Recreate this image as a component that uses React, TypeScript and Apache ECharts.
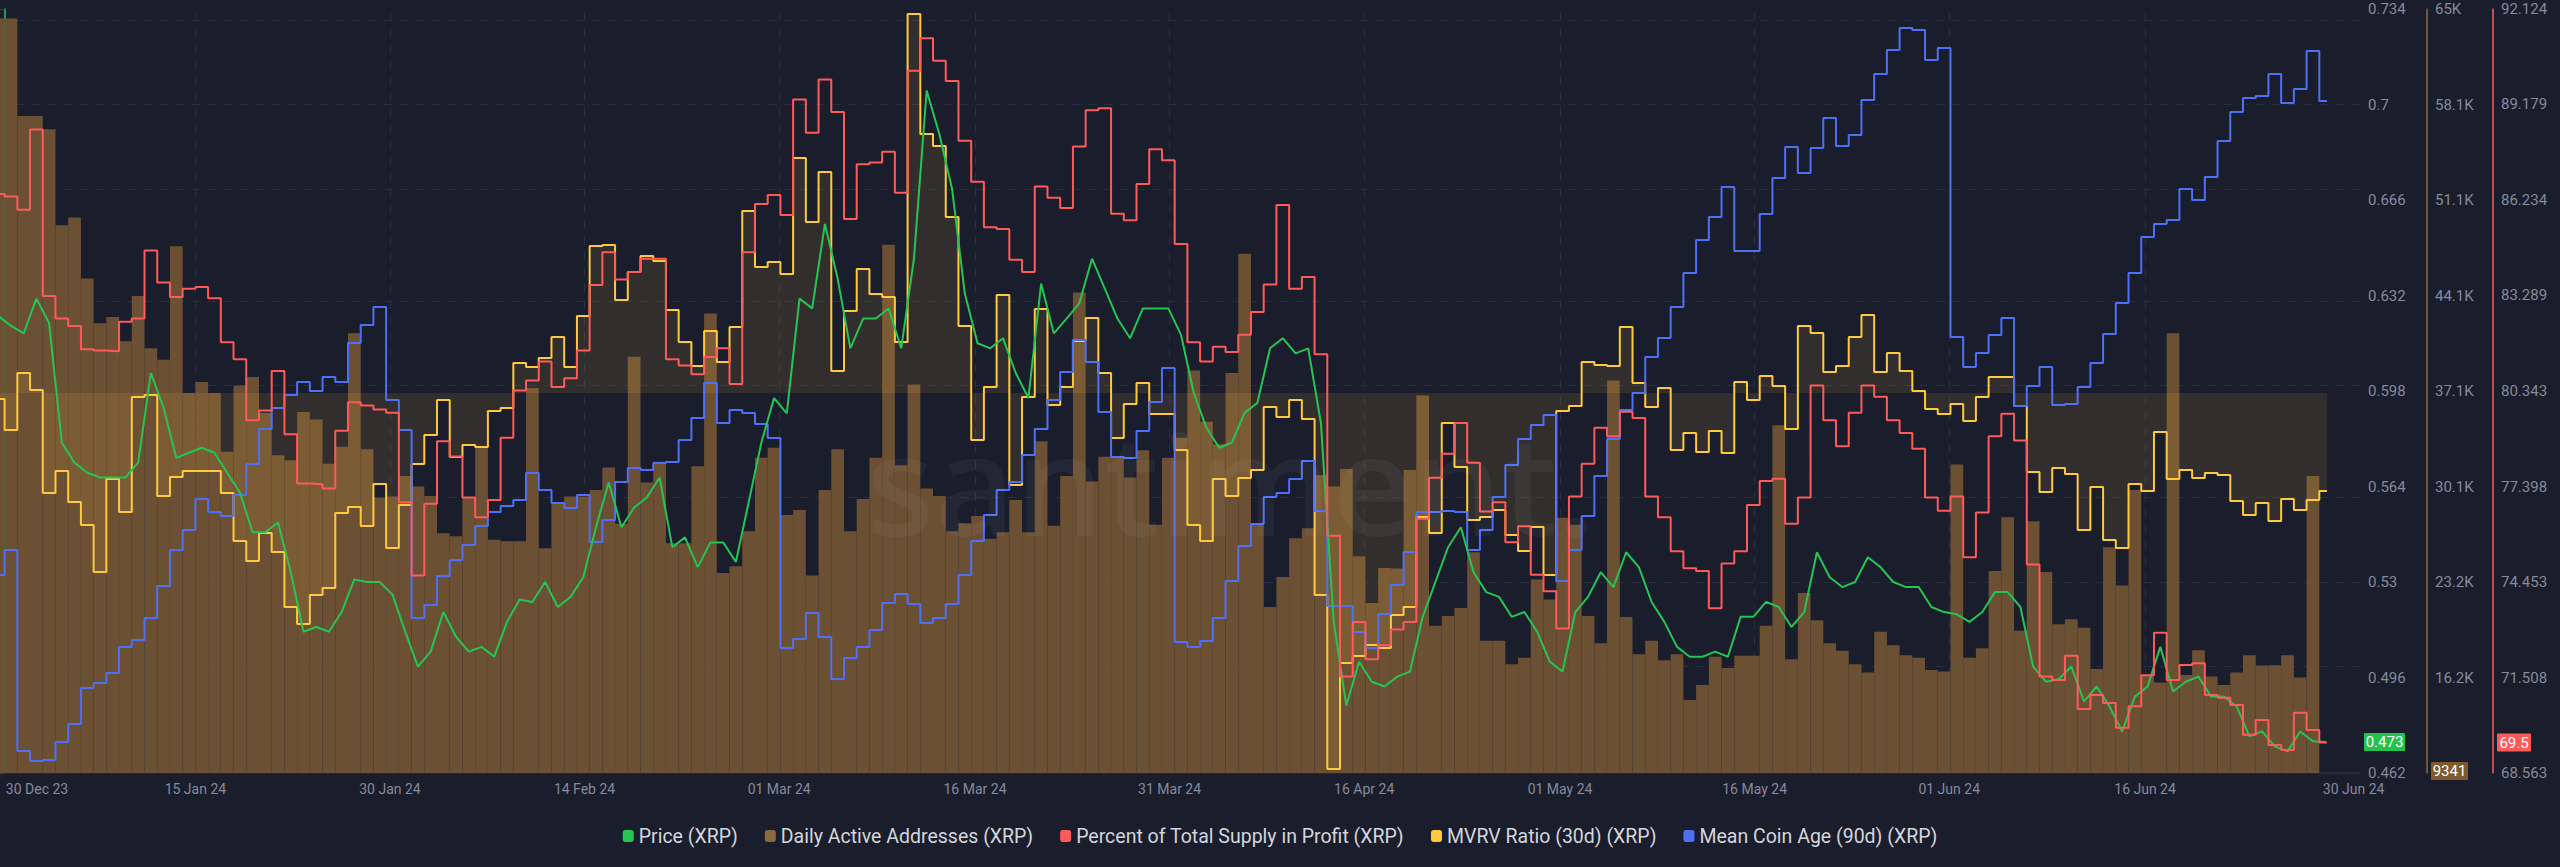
import React, { useEffect, useRef } from 'react';
import * as echarts from 'echarts';

// ---- data (daily slots; slot k covers day k..k+1, slot -1 = 30 Dec 2023) ----
const FIRST_SLOT = -1;

const dailyActiveAddresses = [
  64353, 64353, 57226, 57226, 56244, 49227, 49808, 45336, 42064, 42537,
  40755, 44064, 40246, 39409, 47700, 36974, 37773, 36974, 32683, 37519,
  38137, 35519, 32429, 32065, 35592, 35043, 31810, 33046, 41337, 32864,
  29338, 29411, 30901, 30138, 29447, 26720, 26502, 29338, 32974, 26247,
  26138, 26138, 37337, 25629, 28901, 29411, 29411, 29883, 31520, 27411,
  39628, 30429, 31956, 25992, 25992, 31629, 42791, 23811, 24320, 26866,
  32247, 32974, 28065, 28429, 23629, 29883, 32864, 26866, 29229, 32247,
  47809, 31701, 37592, 29992, 29447, 26866, 27447, 27993, 26320, 26793,
  29156, 26793, 33446, 27266, 30901, 44318, 30502, 32320, 32320, 30792,
  32792, 27338, 32247, 33701, 38610, 34865, 33228, 38428, 47154, 27338,
  21339, 23520, 26356, 27083, 30974, 30138, 31410, 25047, 21630, 24175,
  24138, 31338, 36792, 19957, 20684, 21266, 25338, 18866, 18866, 17157,
  17630, 23339, 21884, 27850, 27338, 20684, 18684, 37883, 20611, 17884,
  18866, 17448, 17884, 14539, 15629, 17703, 16866, 17775, 17775, 19957,
  34610, 17521, 22357, 20357, 18684, 18138, 17157, 16539, 19521, 18539,
  17812, 17630, 16721, 16612, 31740, 17630, 18321, 23957, 27884, 19593,
  27593, 23884, 20066, 20429, 19811, 16794, 25702, 22900, 29883, 16357,
  15811, 41337, 16357, 18175, 16248, 15629, 16539, 17812, 17048, 17084,
  17812, 16175, 30901,
];

const percentSupplyInProfit = [
  86.42, 86.34, 85.93, 88.41, 83.27, 82.58, 82.35, 81.63, 81.59, 81.57,
  82.48, 82.58, 84.68, 83.69, 83.24, 83.50, 83.55, 83.20, 81.85, 81.32,
  79.44, 79.74, 80.96, 79.01, 77.49, 77.47, 77.34, 79.12, 80.00, 79.90,
  79.77, 79.67, 76.91, 74.65, 76.87, 78.79, 78.32, 77.06, 76.45, 76.98,
  78.90, 80.36, 80.67, 81.25, 80.47, 80.74, 81.59, 83.61, 84.62, 83.78,
  84.01, 84.42, 84.42, 81.32, 81.13, 80.86, 81.39, 81.66, 80.56, 84.62,
  86.11, 86.39, 85.77, 89.33, 88.31, 89.95, 88.95, 85.65, 87.34, 87.39,
  87.72, 86.46, 90.22, 91.22, 90.53, 89.90, 88.06, 86.80, 85.39, 85.34,
  84.39, 84.01, 86.65, 86.30, 85.99, 87.88, 89.00, 89.06, 85.81, 85.61,
  86.73, 87.80, 87.46, 84.88, 81.85, 81.25, 81.71, 81.55, 82.08, 82.78,
  83.63, 86.08, 83.50, 83.86, 81.48, 75.88, 71.54, 73.22, 72.07, 72.50,
  72.99, 73.22, 76.40, 77.67, 78.41, 79.36, 78.13, 76.63, 76.91, 75.68,
  76.17, 74.68, 74.17, 73.02, 77.09, 78.10, 79.21, 78.95, 79.70, 79.51,
  77.09, 76.45, 75.40, 74.88, 74.79, 73.64, 75.02, 75.40, 76.83, 77.57,
  77.64, 76.25, 77.06, 80.51, 79.44, 78.64, 79.67, 80.51, 80.17, 79.44,
  79.05, 78.56, 77.06, 76.65, 77.09, 75.22, 76.60, 78.95, 79.64, 78.82,
  74.99, 71.54, 71.43, 72.18, 70.54, 70.97, 70.72, 69.96, 70.62, 71.58,
  72.89, 71.43, 71.89, 71.95, 70.97, 70.88, 70.66, 69.74, 70.20, 69.43,
  69.27, 70.42, 69.89, 69.50,
];

const mvrvRatio30d = [
  0.994, 0.963, 1.020, 1.003, 0.900, 0.922, 0.891, 0.868, 0.821, 0.914,
  0.881, 0.996, 0.998, 0.897, 0.916, 0.922, 0.922, 0.922, 0.900, 0.852,
  0.832, 0.860, 0.841, 0.786, 0.769, 0.798, 0.805, 0.880, 0.886, 0.867,
  0.909, 0.845, 0.888, 0.929, 0.958, 0.993, 0.936, 0.948, 0.946, 0.982,
  0.985, 1.030, 1.026, 1.035, 1.056, 1.026, 1.077, 1.147, 1.148, 1.093,
  1.121, 1.137, 1.132, 1.083, 1.051, 1.027, 1.062, 1.031, 1.066, 1.182,
  1.126, 1.131, 1.119, 1.235, 1.171, 1.221, 1.022, 1.082, 1.124, 1.099,
  1.096, 1.051, 1.379, 1.259, 1.247, 1.176, 1.067, 0.953, 1.006, 1.098,
  0.908, 0.996, 1.084, 0.988, 1.006, 1.052, 1.075, 1.020, 0.955, 0.989,
  1.010, 0.979, 0.979, 0.943, 0.868, 0.852, 0.914, 0.897, 0.915, 0.923,
  0.986, 0.976, 0.993, 0.974, 0.798, 0.624, 0.730, 0.737, 0.748, 0.745,
  0.778, 0.786, 0.876, 0.860, 0.970, 0.926, 0.873, 0.876, 0.883, 0.858,
  0.842, 0.866, 0.818, 0.982, 0.987, 1.031, 1.028, 1.027, 1.066, 1.010,
  0.986, 1.005, 0.943, 0.960, 0.941, 0.962, 0.940, 1.011, 0.993, 1.017,
  1.007, 0.964, 1.067, 1.060, 1.021, 1.027, 1.056, 1.078, 1.021, 1.040,
  1.022, 1.002, 0.984, 0.979, 0.989, 0.972, 0.996, 1.016, 1.016, 0.987,
  0.921, 0.901, 0.925, 0.919, 0.863, 0.906, 0.853, 0.845, 0.909, 0.902,
  0.961, 0.914, 0.923, 0.915, 0.920, 0.918, 0.892, 0.878, 0.890, 0.872,
  0.894, 0.883, 0.893, 0.902,
];

const meanCoinAge90d = [
  29.8, 32.3, 12.2, 11.2, 11.3, 13.1, 14.9, 18.5, 19.0, 20.0,
  22.6, 23.3, 25.5, 28.7, 32.3, 34.3, 37.4, 36.1, 35.7, 37.8,
  40.9, 44.4, 46.5, 47.8, 49.1, 48.2, 49.6, 49.1, 53.0, 54.8,
  56.6, 47.3, 44.3, 25.5, 26.8, 29.7, 31.3, 32.8, 34.7, 36.1,
  36.7, 37.3, 40.0, 38.3, 37.0, 36.5, 37.8, 33.1, 35.3, 39.1,
  40.5, 40.3, 41.0, 41.1, 43.3, 45.5, 49.0, 45.0, 46.3, 46.0,
  44.9, 43.5, 22.5, 23.4, 26.0, 23.6, 19.4, 21.5, 22.6, 24.3,
  27.0, 27.9, 26.9, 25.0, 25.5, 26.9, 29.8, 33.2, 35.8, 38.3,
  39.1, 41.8, 44.4, 47.3, 50.1, 53.3, 51.1, 46.1, 41.6, 41.5,
  44.2, 47.1, 50.5, 23.1, 22.6, 23.2, 25.5, 29.2, 32.7, 34.9,
  37.6, 38.0, 39.4, 41.2, 36.2, 26.7, 26.7, 24.1, 22.5, 25.9,
  28.8, 32.1, 36.1, 36.1, 36.2, 36.1, 32.3, 34.3, 37.6, 40.8,
  43.4, 44.8, 45.8, 29.2, 32.3, 35.7, 39.7, 43.4, 46.3, 48.0,
  51.6, 53.5, 56.6, 60.0, 63.3, 65.6, 68.6, 62.2, 62.2, 65.9,
  69.5, 72.6, 70.0, 72.5, 75.5, 72.7, 73.8, 77.3, 79.9, 82.3,
  84.5, 84.3, 81.3, 82.5, 53.6, 50.6, 52.0, 53.8, 55.5, 46.7,
  48.7, 50.6, 46.8, 46.9, 48.6, 51.0, 53.9, 57.0, 60.0, 63.6,
  64.9, 65.3, 68.4, 67.3, 69.6, 73.2, 76.1, 77.5, 77.7, 79.9,
  77.0, 78.4, 82.2, 77.2,
];

const priceXrp = [
  0.6247, 0.6212, 0.6185, 0.6309, 0.6221, 0.5796, 0.5725, 0.5689, 0.5672, 0.5672,
  0.5672, 0.5725, 0.6044, 0.5920, 0.5742, 0.5760, 0.5778, 0.5760, 0.5689, 0.5619,
  0.5477, 0.5477, 0.5512, 0.5335, 0.5123, 0.5140, 0.5123, 0.5193, 0.5309, 0.5300,
  0.5300, 0.5255, 0.5123, 0.4999, 0.5052, 0.5193, 0.5105, 0.5052, 0.5069, 0.5034,
  0.5158, 0.5238, 0.5229, 0.5300, 0.5211, 0.5247, 0.5317, 0.5495, 0.5654, 0.5495,
  0.5565, 0.5601, 0.5672, 0.5424, 0.5459, 0.5353, 0.5441, 0.5441, 0.5371, 0.5583,
  0.5796, 0.5955, 0.5900, 0.6309, 0.6274, 0.6575, 0.6380, 0.6132, 0.6238, 0.6238,
  0.6274, 0.6132, 0.6451, 0.7050, 0.6894, 0.6699, 0.6327, 0.6150, 0.6132, 0.6168,
  0.6044, 0.5955, 0.6362, 0.6185, 0.6238, 0.6292, 0.6451, 0.6345, 0.6238, 0.6168,
  0.6274, 0.6274, 0.6274, 0.6180, 0.5973, 0.5849, 0.5778, 0.5796, 0.5902, 0.5937,
  0.6132, 0.6168, 0.6114, 0.6132, 0.5866, 0.5160, 0.4860, 0.5016, 0.4945, 0.4928,
  0.4963, 0.4981, 0.5176, 0.5300, 0.5424, 0.5495, 0.5335, 0.5264, 0.5247, 0.5176,
  0.5193, 0.5123, 0.5016, 0.4981, 0.5193, 0.5247, 0.5335, 0.5282, 0.5406, 0.5353,
  0.5229, 0.5158, 0.5069, 0.5034, 0.5034, 0.5052, 0.5034, 0.5176, 0.5176, 0.5229,
  0.5211, 0.5140, 0.5193, 0.5406, 0.5317, 0.5282, 0.5300, 0.5388, 0.5353, 0.5300,
  0.5282, 0.5282, 0.5211, 0.5193, 0.5185, 0.5158, 0.5193, 0.5264, 0.5264, 0.5211,
  0.4999, 0.4945, 0.4954, 0.4999, 0.4875, 0.4928, 0.4857, 0.4768, 0.4892, 0.4928,
  0.5069, 0.4910, 0.4945, 0.4963, 0.4892, 0.4892, 0.4857, 0.4751, 0.4768, 0.4715,
  0.4697, 0.4768, 0.4733, 0.4730,
];

// latest values shown in the axis badges
const latestPrice = 0.473;
const latestDaa = 9341;
const latestProfit = 69.5;

// axis ticks
const xTickLabels = ['30 Dec 23', '15 Jan 24', '30 Jan 24', '14 Feb 24', '01 Mar 24', '16 Mar 24', '31 Mar 24',
  '16 Apr 24', '01 May 24', '16 May 24', '01 Jun 24', '16 Jun 24', '30 Jun 24'];
const xTickDays = [2.55, 15.0, 30.3, 45.6, 60.9, 76.3, 91.6, 106.9, 122.3, 137.6, 152.9, 168.3, 184.7];
const xGridDays = [15.0, 30.3, 45.6, 60.9, 76.3, 91.6, 106.9, 122.3, 137.6, 152.9, 168.3];
const priceTicks = [0.462, 0.496, 0.53, 0.564, 0.598, 0.632, 0.666, 0.7, 0.734];
const daaTicks = [16180, 23160, 30140, 37120, 44100, 51080, 58060, 65040];
const profitTicks = [68.563, 71.508, 74.453, 77.398, 80.343, 83.289, 86.234, 89.179, 92.124];

// ---- styling ----
const BG = '#1a1d2b';
const GREEN = '#26c452';
const BROWN = '#6c5034';
const BROWN_LEGEND = '#8a6a3d';
const RED = '#ff5a5a';
const YELLOW = '#ffc93f';
const BLUE = '#4f70f5';
const FONT = 'Roboto, "Open Sans", sans-serif';
const AXIS_TEXT = '#858a9c';
const LINE_END = 182.6;

function stepData(values: number[]) {
  const d: number[][] = values.map((v, i) => [FIRST_SLOT + i, v]);
  d.push([LINE_END, values[values.length - 1]]);
  return d;
}

function kFormat(v: number) {
  const s = (v / 1000).toFixed(1).replace(/\.0$/, '');
  return s + 'K';
}

export default function App() {
  const ref = useRef<HTMLDivElement>(null);
  useEffect(() => {
    document.body.style.margin = '0';
    document.body.style.background = BG;
    const chart = echarts.init(ref.current!, null, { renderer: 'svg' });

    const names = ['Price (XRP)', 'Daily Active Addresses (XRP)', 'Percent of Total Supply in Profit (XRP)',
      'MVRV Ratio (30d) (XRP)', 'Mean Coin Age (90d) (XRP)'];

    const daaData = dailyActiveAddresses.map((v, i) => [FIRST_SLOT + i, v]);
    const priceData = priceXrp.map((v, i) => [FIRST_SLOT + i + 0.5, v]);

    const rightAxis = (offset: number, color: string, min: number, max: number, ticks: number[], fmt: (v: number) => string, tick: boolean) => ({
      type: 'value',
      position: 'right',
      offset,
      min,
      max,
      axisLine: { show: true, lineStyle: { color, width: 1.5 } },
      axisTick: { show: tick, inside: true, length: 6, customValues: ticks, lineStyle: { color: '#343a4d' } },
      splitLine: { show: false },
      axisLabel: { customValues: ticks, color: AXIS_TEXT, fontSize: 15, fontFamily: FONT, margin: 8, formatter: fmt },
    });

    chart.setOption({
      animation: false,
      backgroundColor: BG,
      grid: { left: 0, right: 200, top: 9, bottom: 94, containLabel: false },
      legend: {
        top: 821,
        left: 'center',
        icon: 'roundRect',
        itemWidth: 11,
        itemHeight: 12,
        itemGap: 27,
        itemStyle: { borderWidth: 0 },
        textStyle: { color: '#d3d6dd', fontSize: 19.5, fontFamily: FONT },
        data: names,
      },
      xAxis: {
        type: 'value',
        min: -0.362,
        max: 185.2,
        axisLine: { show: true, lineStyle: { color: '#262b3c', width: 2 } },
        axisTick: { show: false },
        splitLine: { show: false },
        axisLabel: {
          customValues: xTickDays,
          color: AXIS_TEXT,
          fontSize: 14,
          fontFamily: FONT,
          margin: 9,
          formatter: (v: number) => {
            const i = xTickDays.findIndex((d) => Math.abs(d - v) < 1e-6);
            return i >= 0 ? xTickLabels[i] : '';
          },
        },
      },
      yAxis: [
        rightAxis(0, GREEN, 0.462, 0.734, priceTicks, (v: number) => String(parseFloat(v.toFixed(3))), true),
        rightAxis(67, BROWN_LEGEND, 9200, 65040, daaTicks, kFormat, false),
        rightAxis(133, RED, 68.563, 92.124, profitTicks, (v: number) => v.toFixed(3), false),
        { type: 'value', show: false, min: 0.62, max: 1.384, splitLine: { show: false } },
        { type: 'value', show: false, min: 10, max: 86.4, splitLine: { show: false } },
      ],
      series: [
        {
          name: names[1],
          type: 'custom',
          xAxisIndex: 0,
          yAxisIndex: 1,
          z: 2,
          itemStyle: { color: BROWN_LEGEND },
          encode: { x: 0, y: 1 },
          data: daaData,
          renderItem: (params: any, api: any) => {
            const k = api.value(0);
            const v = api.value(1);
            const p0 = api.coord([k, v]);
            const p1 = api.coord([k + 1, 9200]);
            const cs = params.coordSys;
            const x0 = Math.max(p0[0], cs.x);
            return {
              type: 'rect',
              shape: { x: x0, y: p0[1], width: Math.max(0, p1[0] - x0), height: p1[1] - p0[1] },
              style: { fill: BROWN },
            };
          },
        },
        {
          name: names[3],
          type: 'line',
          yAxisIndex: 3,
          step: 'end',
          z: 3,
          showSymbol: false,
          symbol: 'none',
          itemStyle: { color: YELLOW },
          lineStyle: { color: YELLOW, width: 2 },
          areaStyle: { color: 'rgba(255, 200, 64, 0.15)', origin: 1 },
          data: stepData(mvrvRatio30d),
          markLine: {
            silent: true,
            symbol: ['none', 'none'],
            label: { show: false },
            lineStyle: { color: YELLOW, width: 1, type: 'solid' },
            data: [[{ coord: [FIRST_SLOT, 1] }, { coord: [LINE_END, 1] }]],
          },
        },
        {
          name: names[4],
          type: 'line',
          yAxisIndex: 4,
          step: 'end',
          z: 4,
          showSymbol: false,
          symbol: 'none',
          itemStyle: { color: BLUE },
          lineStyle: { color: BLUE, width: 2 },
          data: stepData(meanCoinAge90d),
        },
        {
          name: names[0],
          type: 'line',
          yAxisIndex: 0,
          z: 5,
          showSymbol: false,
          symbol: 'none',
          itemStyle: { color: GREEN },
          lineStyle: { color: GREEN, width: 2 },
          data: priceData,
          markLine: {
            silent: true,
            z: 1,
            symbol: ['none', 'none'],
            label: { show: false },
            lineStyle: { color: '#272c3e', width: 1, type: [9, 7] },
            data: [
              ...priceTicks.map((v) => ({ yAxis: v })),
              ...xGridDays.map((d) => ({ xAxis: d })),
            ],
          },
        },
        {
          name: names[2],
          type: 'line',
          yAxisIndex: 2,
          step: 'end',
          z: 6,
          showSymbol: false,
          symbol: 'none',
          itemStyle: { color: RED },
          lineStyle: { color: RED, width: 2 },
          data: stepData(percentSupplyInProfit),
        },
      ],
    });

    const yP = chart.convertToPixel({ yAxisIndex: 0 }, latestPrice) as unknown as number;
    const yD = chart.convertToPixel({ yAxisIndex: 1 }, latestDaa) as unknown as number;
    const yR = chart.convertToPixel({ yAxisIndex: 2 }, latestProfit) as unknown as number;

    const badge = (x: number, y: number, w: number, fill: string, text: string) => ({
      type: 'group',
      z: 100,
      children: [
        { type: 'rect', shape: { x, y: y - 9, width: w, height: 18, r: 1 }, style: { fill } },
        {
          type: 'text',
          x: x + w / 2,
          y,
          style: { text, fill: '#ffffff', font: `15px ${FONT}`, align: 'center', verticalAlign: 'middle' },
        },
      ],
    });

    chart.setOption({
      graphic: [
        {
          type: 'text',
          x: 866,
          y: 411,
          z: 50,
          silent: true,
          style: {
            text: 'santiment.',
            fill: 'rgba(255,255,255,0.045)',
            font: `600 140px "Open Sans", sans-serif`,
            align: 'left',
            verticalAlign: 'alphabetic',
          },
        },
        badge(2364, yP, 41, '#22c24f', String(latestPrice)),
        badge(2431, yD, 37, '#7d5a30', String(latestDaa)),
        badge(2497, yR, 34, '#ff5a5a', String(latestProfit)),
      ],
    });

    return () => chart.dispose();
  }, []);

  return (
    <div
      ref={ref}
      style={{ position: 'absolute', left: 0, top: 0, width: 2560, height: 867, background: BG }}
    />
  );
}
